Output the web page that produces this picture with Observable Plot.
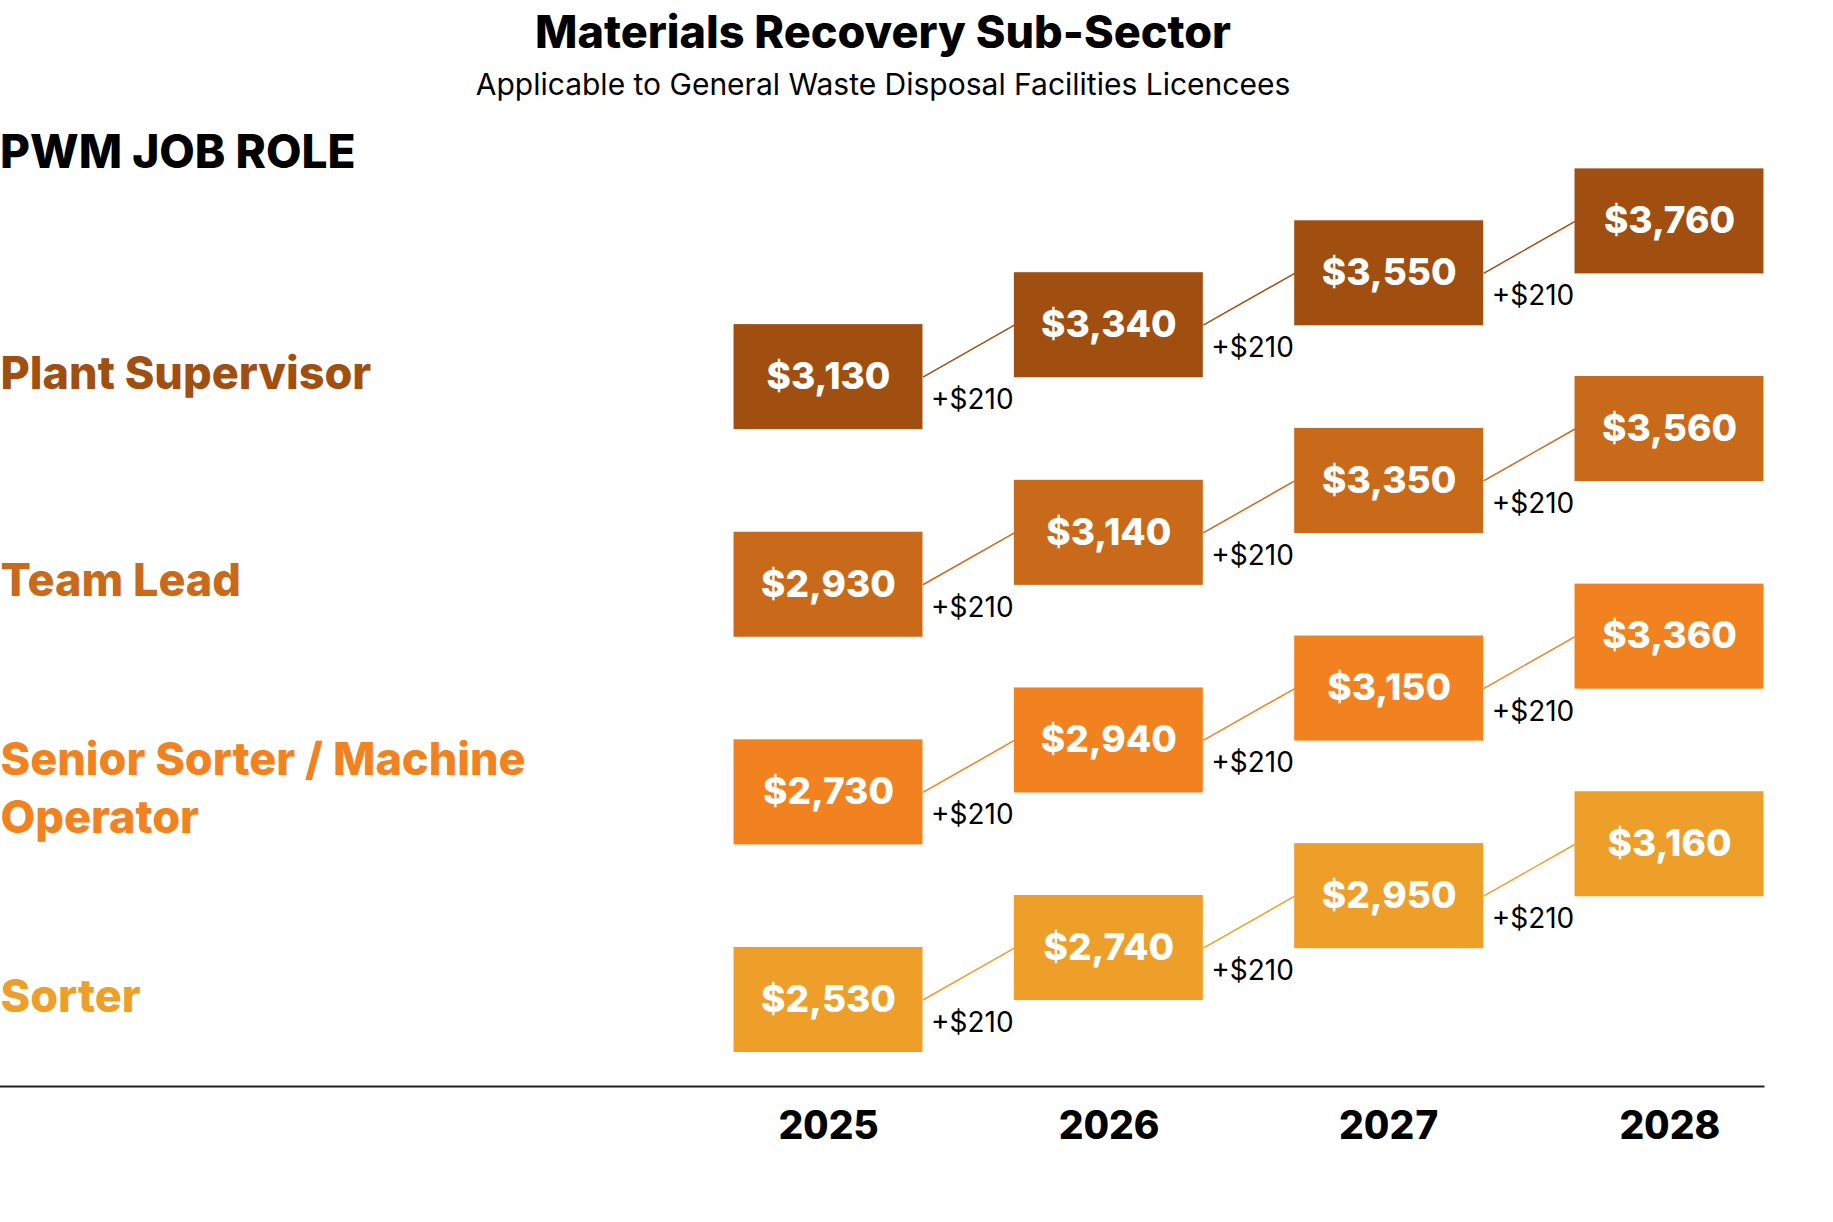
<!DOCTYPE html>
<html>
<head>
<meta charset="utf-8">
<script src="https://cdn.jsdelivr.net/npm/d3@7"></script>
<script src="https://cdn.jsdelivr.net/npm/@observablehq/plot@0.6"></script>
<style>
  html, body { margin: 0; padding: 0; background: #fff; }
  #page { position: relative; width: 1833px; height: 1222px; font-family: Inter, "Noto Sans", sans-serif; color: #000; background: #fff; }
  #title { position: absolute; left: 0; width: 1766px; top: 8px; text-align: center; font-size: 45px; font-weight: 800; line-height: 48px; z-index: 2; }
  #subtitle { position: absolute; left: 0; width: 1766px; top: 67px; text-align: center; font-size: 30px; font-weight: 400; line-height: 34px; z-index: 2; }
  #rolehead { position: absolute; left: 0; top: 126px; font-size: 46px; font-weight: 800; line-height: 50px; z-index: 2; }
  #chart { position: absolute; left: 0; top: 110px; z-index: 1; }
</style>
</head>
<body>
<div id="page">
  <div id="title">Materials Recovery Sub-Sector</div>
  <div id="subtitle">Applicable to General Waste Disposal Facilities Licencees</div>
  <div id="rolehead">PWM JOB ROLE</div>
  <div id="chart"></div>
</div>
<script>
// ---- data ----
const years = [2025, 2026, 2027, 2028];
const roles = ["Sorter", "Senior Sorter / Machine Operator", "Team Lead", "Plant Supervisor"];
const sorter = [2530, 2740, 2950, 3160];
const seniorSorter = [2730, 2940, 3150, 3360];
const teamLead = [2930, 3140, 3350, 3560];
const plantSupervisor = [3130, 3340, 3550, 3760];
const roleColors = ["#EE9F2A", "#F28220", "#C86A1A", "#A04F10"];

// ---- build table ----
const seriesByRole = [sorter, seniorSorter, teamLead, plantSupervisor];
const cells = [];
roles.forEach((role, r) => {
  seriesByRole[r].forEach((v, i) => {
    cells.push({
      role, year: years[i], value: v, pos: r * 4 + i, color: roleColors[r],
      next: i < years.length - 1 ? seriesByRole[r][i + 1] : null
    });
  });
});
const steps = cells.filter(d => d.next !== null);
const roleRows = roles.map((role, r) => ({ role, pos: r * 4, color: roleColors[r] }));

const hw = 0.337; // half box width (years)
const hh = 1.012; // half box height (row steps)
const fmt = v => "$" + d3.format(",")(v);

const chart = Plot.plot({
  width: 1833,
  height: 1112,
  marginLeft: 0,
  marginRight: 70,
  marginTop: 59,
  marginBottom: 136,
  style: { fontFamily: "Inter, 'Noto Sans', sans-serif", background: "transparent" },
  x: { type: "linear", domain: [2025, 2028], range: [828, 1669] },
  y: { domain: [-1.667, 16], axis: null },
  color: { type: "identity" },
  marks: [
    Plot.link(steps, {
      x1: d => d.year + hw, y1: "pos",
      x2: d => d.year + 1 - hw, y2: d => d.pos + 1,
      stroke: "color", strokeWidth: 1.5
    }),
    Plot.rect(cells, {
      x1: d => d.year - hw, x2: d => d.year + hw,
      y1: d => d.pos - hh, y2: d => d.pos + hh,
      fill: "color"
    }),
    Plot.text(cells, {
      x: "year", y: "pos", text: d => fmt(d.value),
      fill: "white", fontSize: 37, fontWeight: 800
    }),
    Plot.text(steps, {
      x: d => d.year + hw, y: "pos", text: d => "+" + fmt(d.next - d.value),
      textAnchor: "start", dx: 8, dy: 23, fill: "black", fontSize: 28, fontWeight: 400
    }),
    Plot.text(roleRows, {
      frameAnchor: "left", y: "pos", text: "role", fill: "color", dy: -7,
      textAnchor: "start", fontSize: 45, fontWeight: 800, lineWidth: 13, lineHeight: 1.3
    }),
    Plot.frame({ anchor: "bottom", stroke: "#222", strokeWidth: 2 }),
    Plot.axisX({
      ticks: years, tickFormat: d => String(d), tickSize: 0, tickPadding: 25,
      fontSize: 39, fontWeight: 800, fill: "black", label: null
    })
  ]
});
document.getElementById("chart").appendChild(chart);
</script>
</body>
</html>
